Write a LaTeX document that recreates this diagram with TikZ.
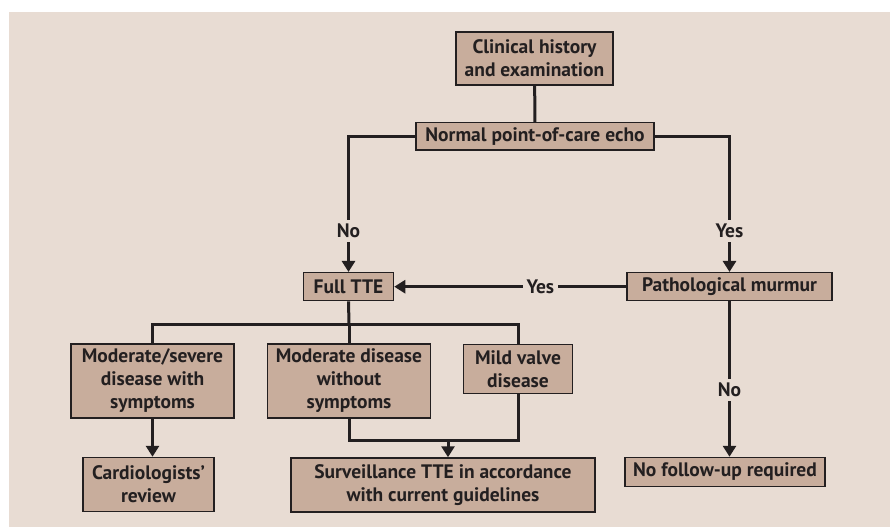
\documentclass[tikz,border=0pt]{standalone}
\usepackage{fontspec}
\setmainfont{PT Sans}
\usetikzlibrary{arrows.meta}
\usetikzlibrary{positioning}
\definecolor{bgtan}{HTML}{E8DCD3}
\definecolor{boxtan}{HTML}{C8AD9C}
\definecolor{ink}{HTML}{231F20}
\tikzset{box/.style = {draw = ink, fill = boxtan, line width = 1.5pt, inner sep = 0,
                       align = center, text = ink,
                       font = \fontsize{19.5}{23}\selectfont\bfseries}}
\tikzset{lbl/.style = {fill = bgtan, inner sep = 4pt, text = ink,
                       font = \fontsize{19.5}{23}\selectfont\bfseries}}
\tikzset{wire/.style = {draw = ink, line width = 3pt}}
\tikzset{arr/.style = {wire, -{Triangle[width = 13pt, length = 11pt]}}}

\begin{document}
\begin{tikzpicture}[x = 1pt, y = -1pt]
      \fill [white] (0, 0) rectangle (890, 527);
      \fill [bgtan] (9, 12) rectangle (890, 527);

      \node [box, minimum width = 157pt, minimum height = 53pt] (clin) at (534.5, 58.5) {Clinical history\\and examination};
      \node [box, minimum width = 238pt, minimum height = 27.5pt] (echo) at (535, 136.3) {Normal point-of-care echo};
      \node [box, minimum width = 90pt, minimum height = 28pt] (tte) at (348.5, 286.7) {Full TTE};
      \node [box, minimum width = 205pt, minimum height = 28pt] (murmur) at (729.5, 286.7) {Pathological murmur};
      \node [box, minimum width = 163pt, minimum height = 74pt] (severe) at (152.5, 381) {Moderate/severe\\disease with\\symptoms};
      \node [box, minimum width = 163pt, minimum height = 74pt] (moderate) at (349, 381) {Moderate disease\\without\\symptoms};
      \node [box, minimum width = 109pt, minimum height = 49pt] (mild) at (518, 369) {Mild valve\\disease};
      \node [box, minimum width = 131pt, minimum height = 54pt] (review) at (148.5, 484.5) {Cardiologists'\\review};
      \node [box, minimum width = 304pt, minimum height = 54pt] (surv) at (443, 485) {Surveillance TTE in accordance\\with current guidelines};
      \node [box, minimum width = 200pt, minimum height = 29pt] (nofollow) at (725, 472) {No follow-up required};

      \coordinate (split) at (349, 324.5);
      \coordinate (merge) at (448, 440.5);

      \draw [wire] (clin) -- (echo);
      \draw [arr] (echo.west) -| node [lbl, pos = 0.85] {No} (tte.north);
      \draw [arr] (echo.east) -| node [lbl, pos = 0.85] {Yes} (murmur.north);
      \draw [arr] (murmur.west) -- node [lbl, pos = 0.37] {Yes} (tte.east);
      \draw [arr] (murmur.south) -- node [lbl, pos = 0.57] {No} (murmur.south |- nofollow.north);

      \draw [wire] (tte.south) -- (split);
      \draw [wire] (severe.north) |- (split) -| (mild.north);
      \draw [wire] (split) -- (moderate.north);
      \draw [arr] (severe.south) -- (severe.south |- review.north);

      \draw [wire] (moderate.south) |- (merge) -| (mild.south);
      \draw [arr] (merge) -- (merge |- surv.north);

\end{tikzpicture}
\end{document}
